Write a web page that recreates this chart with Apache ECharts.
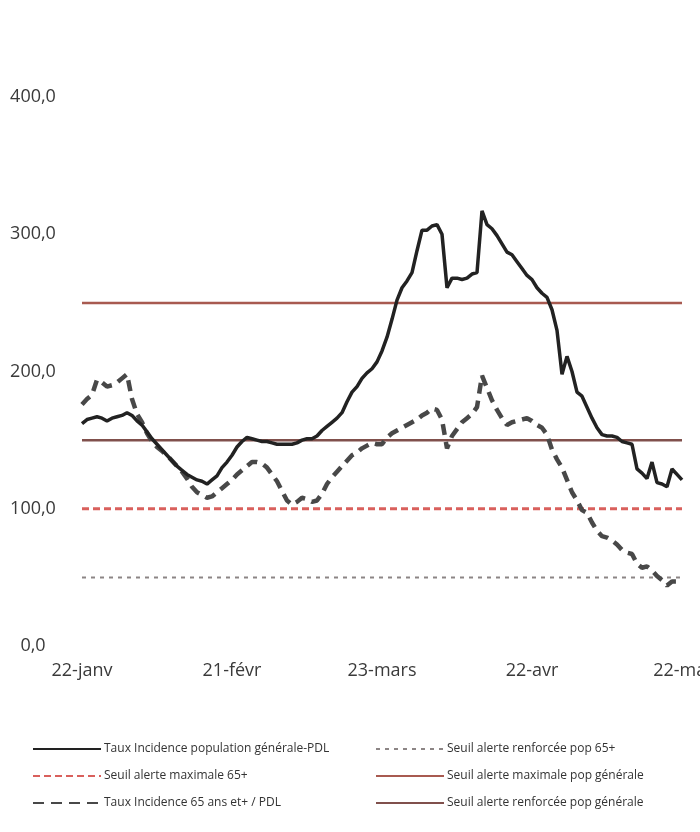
<!DOCTYPE html>
<html>
<head>
<meta charset="utf-8">
<script src="https://cdn.jsdelivr.net/npm/echarts@6/dist/echarts.min.js"></script>
<style>
html,body{margin:0;padding:0;background:#fff;}
#chart{width:700px;height:832px;}
</style>
</head>
<body>
<div id="chart"></div>
<script>
// ---- Data ----
const startDay = 22;           // 22 janvier
const monthNames = ['janv', 'févr', 'mars', 'avr', 'mai'];
const monthLengths = [31, 28, 31, 30, 31];
const nDays = 121;             // 22-janv -> 22-mai

const yTicks = [0, 100, 200, 300, 400];

const tauxGeneral = [
  162,165,166,167,166,164,166,167,168,170,
  168,164,161,156,151,147,143,139,135,131,
  128,125,123,121,120,118,121,124,130,134,
  139,145,149,152,151,150,149,149,148,147,
  147,147,147,148,150,151,151,153,157,160,
  163,166,170,178,185,189,195,199,202,207,
  215,225,238,252,261,266,272,288,303,303,
  306,307,300,261,268,268,267,268,271,272,
  317,307,304,299,293,287,285,280,275,270,
  267,261,257,254,245,230,198,211,200,185,
  182,174,166,159,154,153,153,152,149,148,
  147,129,126,122,134,119,118,116,129,125,
  121
];

const taux65 = [
  176,180,183,194,192,189,190,192,195,198,
  180,169,163,155,149,145,142,139,135,131,
  127,122,116,112,110,108,109,112,115,118,
  121,125,128,131,134,134,133,130,125,120,
  113,106,103,105,108,107,105,106,111,118,
  123,127,131,135,139,141,144,146,148,147,
  147,152,155,157,159,161,163,165,168,170,
  173,172,165,144,153,158,163,166,169,174,
  197,188,179,172,166,161,163,164,165,166,
  164,161,159,154,143,136,130,121,112,106,
  99,97,90,84,80,79,77,74,70,68,
  67,60,57,58,55,51,48,44,47,47,
  47
];

const seuilRenf65 = 50;
const seuilMax65 = 100;
const seuilRenfGen = 150;
const seuilMaxGen = 250;

const names = {
  gen: 'Taux Incidence population générale-PDL',
  renf65: 'Seuil alerte renforcée pop 65+',
  max65: 'Seuil alerte maximale 65+',
  maxGen: 'Seuil alerte maximale pop générale',
  inc65: 'Taux Incidence 65 ans et+ / PDL',
  renfGen: 'Seuil alerte renforcée pop générale'
};

// ---- Categories (daily dates) ----
const dates = [];
{
  let m = 0, d = startDay;
  for (let i = 0; i < nDays; i++) {
    dates.push(d + '-' + monthNames[m]);
    d++;
    if (d > monthLengths[m]) { d = 1; m++; }
  }
}
const constSeries = v => dates.map(() => v);

const chart = echarts.init(document.getElementById('chart'), null, {renderer: 'canvas'});
const FONT = "'Open Sans', 'Noto Sans', sans-serif";

const legendCommon = {
  orient: 'vertical', itemGap: 15,
  itemWidth: 68, itemHeight: 10,
  itemStyle: {opacity: 0, borderWidth: 0},
  textStyle: {fontSize: 12, color: '#333', fontFamily: FONT, padding: [0, 0, 0, -2]}
};

const option = {
  backgroundColor: '#ffffff',
  animation: false,
  grid: {
    left: 82, right: 18, top: 97, bottom: 186,
    containLabel: false,
    outerBoundsMode: 'none'
  },
  xAxis: {
    type: 'category',
    data: dates,
    boundaryGap: false,
    axisLine: {show: false},
    axisTick: {show: false},
    splitLine: {show: false},
    axisLabel: {
      interval: 29,
      margin: 16,
      color: '#3a3a3a',
      fontSize: 18,
      fontFamily: FONT,
      alignMinLabel: 'center',
      alignMaxLabel: 'center'
    }
  },
  yAxis: {
    type: 'value',
    min: yTicks[0],
    max: yTicks[yTicks.length - 1],
    interval: 100,
    axisLine: {show: false},
    axisTick: {show: false},
    splitLine: {show: false},
    axisLabel: {
      align: 'center',
      margin: 49,
      color: '#3a3a3a',
      fontSize: 18,
      fontFamily: FONT,
      formatter: v => v.toFixed(1).replace('.', ',')
    }
  },
  legend: [
    Object.assign({left: 27, top: 738, data: [names.gen, names.max65, names.inc65]}, legendCommon),
    Object.assign({left: 370, top: 738, data: [names.renf65, names.maxGen, names.renfGen]}, legendCommon)
  ],
  series: [
    {
      name: names.renf65, type: 'line', data: constSeries(seuilRenf65),
      symbol: 'none', z: 1,
      lineStyle: {color: '#8c8585', width: 2, type: [4, 5]},
      itemStyle: {color: '#8c8585'}
    },
    {
      name: names.max65, type: 'line', data: constSeries(seuilMax65),
      symbol: 'none', z: 1,
      lineStyle: {color: '#d9605c', width: 3, type: [7, 4]},
      itemStyle: {color: '#d9605c'}
    },
    {
      name: names.renfGen, type: 'line', data: constSeries(seuilRenfGen),
      symbol: 'none', z: 1,
      lineStyle: {color: '#80504c', width: 2.5},
      itemStyle: {color: '#80504c'}
    },
    {
      name: names.maxGen, type: 'line', data: constSeries(seuilMaxGen),
      symbol: 'none', z: 1,
      lineStyle: {color: '#a85a50', width: 2.5},
      itemStyle: {color: '#a85a50'}
    },
    {
      name: names.inc65, type: 'line', data: taux65,
      symbol: 'none', z: 3,
      lineStyle: {color: '#484848', width: 4.5, type: [11, 7]},
      itemStyle: {color: '#484848'}
    },
    {
      name: names.gen, type: 'line', data: tauxGeneral,
      symbol: 'none', z: 4,
      lineStyle: {color: '#222222', width: 3.5},
      itemStyle: {color: '#222222'}
    }
  ]
};
chart.setOption(option);
</script>
</body>
</html>
